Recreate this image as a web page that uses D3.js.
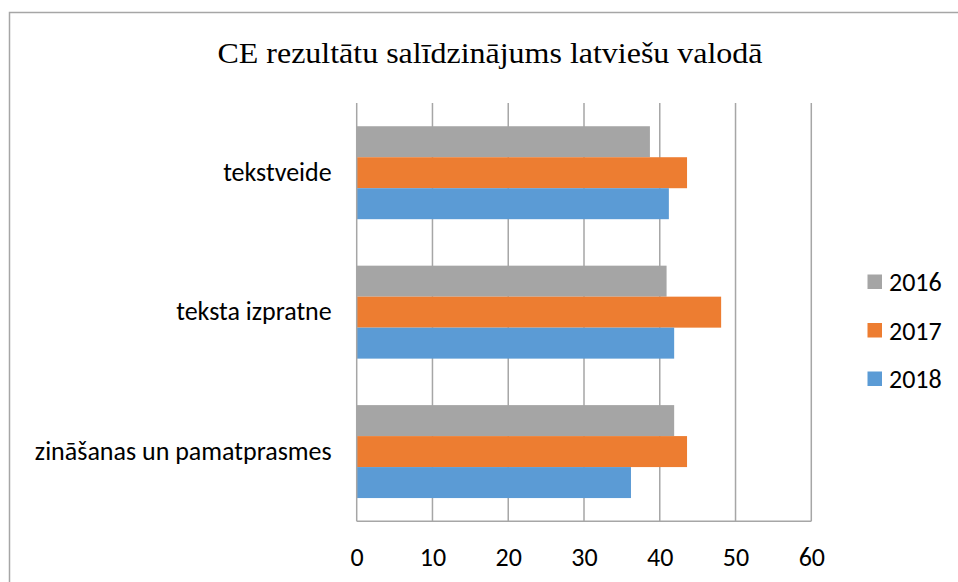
<!DOCTYPE html>
<html>
<head>
<meta charset="utf-8">
<script src="https://cdn.jsdelivr.net/npm/d3@7"></script>
<style>
  html, body { margin: 0; padding: 0; background: #fff; }
  svg { display: block; }
</style>
</head>
<body>
<script>
const title = "CE rezultātu salīdzinājums latviešu valodā";
const categories = ["tekstveide", "teksta izpratne", "zināšanas un pamatprasmes"];
const seriesNames = ["2016", "2017", "2018"];
const values2016 = [38.7, 40.9, 41.9];
const values2017 = [43.6, 48.1, 43.6];
const values2018 = [41.2, 41.9, 36.2];
const tickValues = [0, 10, 20, 30, 40, 50, 60];
const colors = ["#A5A5A5", "#ED7D31", "#5B9BD5"];

const W = 958, H = 582;
const sansFont = "Carlito, Lato, 'Liberation Sans', sans-serif";
const labelSize = 26;
const svg = d3.select("body").append("svg").attr("width", W).attr("height", H);

// chart border
svg.append("rect")
  .attr("x", 9.5).attr("y", 12.5)
  .attr("width", W + 20).attr("height", H + 20)
  .attr("fill", "#fff").attr("stroke", "#A6A6A6").attr("stroke-width", 1.5);

// title
svg.append("text")
  .attr("x", 490).attr("y", 62.5)
  .attr("text-anchor", "middle")
  .attr("font-family", "'Liberation Serif', 'Times New Roman', serif")
  .attr("font-size", 29.5)
  .attr("textLength", 545)
  .attr("lengthAdjust", "spacingAndGlyphs")
  .attr("fill", "#000")
  .text(title);

const x = d3.scaleLinear().domain([0, 60]).range([356.7, 811.3]);
const y = d3.scaleBand().domain(categories).range([103, 521.3]).paddingInner(1/3).paddingOuter(1/6);
const ySub = d3.scaleBand().domain(seriesNames).range([0, y.bandwidth()]);

// gridlines
svg.append("g").selectAll("line").data(tickValues.slice(1)).join("line")
  .attr("x1", d => x(d)).attr("x2", d => x(d))
  .attr("y1", 103).attr("y2", 521.3)
  .attr("stroke", "#A6A6A6").attr("stroke-width", 1.5);

// data
const seriesData = [values2016, values2017, values2018];
seriesNames.forEach((s, si) => {
  svg.append("g").selectAll("rect").data(categories).join("rect")
    .attr("x", x(0))
    .attr("y", c => y(c) + ySub(s))
    .attr("width", (c, i) => x(seriesData[si][i]) - x(0))
    .attr("height", ySub.bandwidth())
    .attr("fill", colors[si]);
});

// axes lines
svg.append("line").attr("x1", x(0)).attr("x2", x(0)).attr("y1", 103).attr("y2", 521.3)
  .attr("stroke", "#A6A6A6").attr("stroke-width", 1.5);
svg.append("line").attr("x1", x(0)).attr("x2", x(60)).attr("y1", 521.3).attr("y2", 521.3)
  .attr("stroke", "#A6A6A6").attr("stroke-width", 1.5);

// x axis labels
const xAxis = d3.axisBottom(x).tickValues(tickValues).tickSize(0).tickPadding(0);
const gx = svg.append("g").attr("transform", "translate(0,557)").call(xAxis);
gx.select(".domain").remove();
gx.selectAll("text")
  .attr("dy", "0.35em").attr("y", 0)
  .attr("font-family", sansFont).attr("font-size", labelSize).attr("fill", "#000");

// y axis labels
const yAxis = d3.axisLeft(y).tickSize(0).tickPadding(25);
const gy = svg.append("g").attr("transform", `translate(${x(0)},0)`).call(yAxis);
gy.select(".domain").remove();
gy.selectAll("text")
  .attr("font-family", sansFont).attr("font-size", labelSize).attr("fill", "#000");

// legend
const legend = svg.append("g");
seriesNames.forEach((s, i) => {
  const gy0 = 282 + i * 48.5;
  legend.append("rect").attr("x", 867.5).attr("y", gy0 - 7.5).attr("width", 14.5).attr("height", 14.5)
    .attr("fill", colors[i]);
  legend.append("text").attr("x", 889).attr("y", gy0).attr("dy", "0.35em")
    .attr("font-family", sansFont).attr("font-size", labelSize).attr("fill", "#000")
    .text(s);
});
</script>
</body>
</html>
